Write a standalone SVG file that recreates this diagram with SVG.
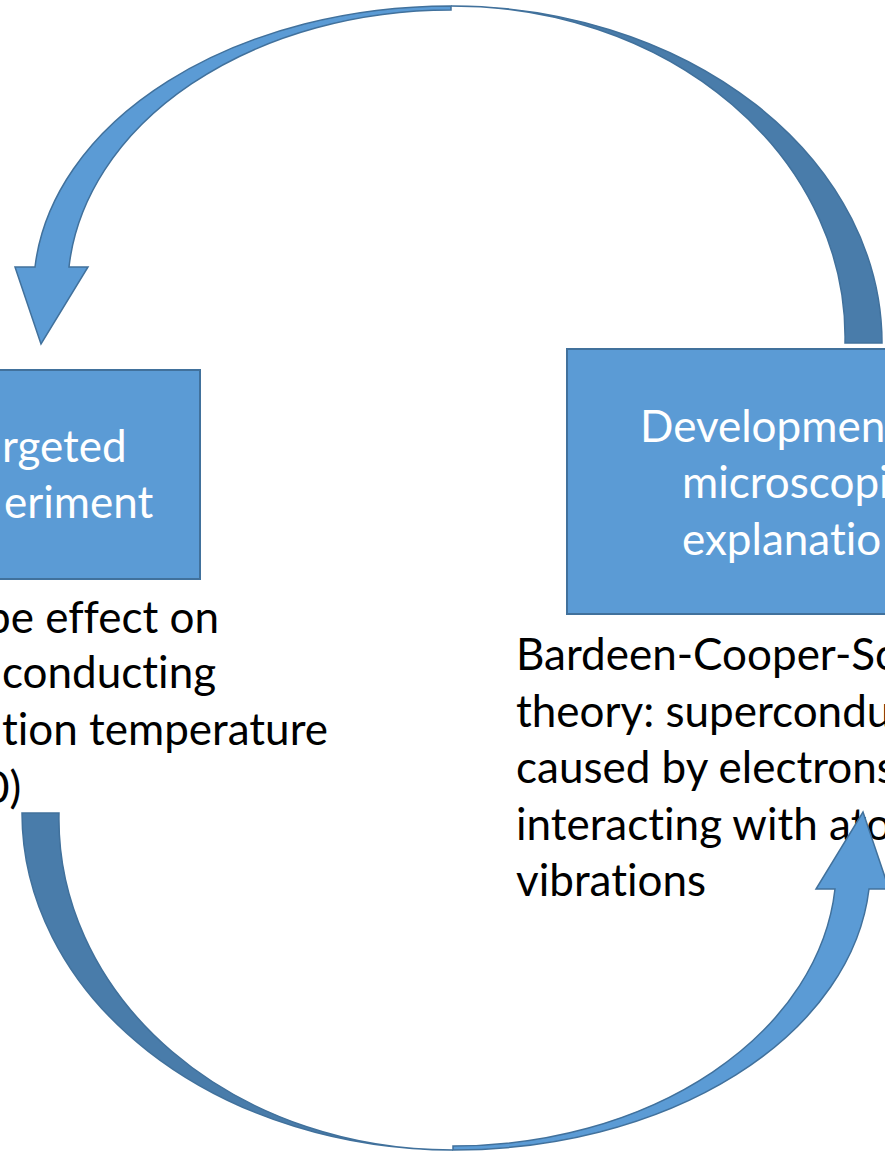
<svg xmlns="http://www.w3.org/2000/svg" width="885" height="1152" viewBox="0 0 885 1152">
  <style>
    text { font-family: Lato, "Open Sans", sans-serif; font-size: 44px; font-variant-ligatures: none; font-feature-settings: "liga" 0, "clig" 0, "calt" 0, "dlig" 0; }
    .box { fill: #5B9BD5; stroke: #41719C; stroke-width: 2; }
    .boxText { fill: #FFFFFF; }
    .note { fill: #000000; }
    .front { fill: #5B9BD5; stroke: #41719C; stroke-width: 1.5; stroke-linejoin: miter; }
    .back { fill: #497CAA; stroke: #41719C; stroke-width: 1.5; }
  </style>
  <defs>
    <!-- curved arrow: dark back face on the tail side, light front face carrying the head -->
    <g id="curvedArrow">
      <path class="back" d="M882,343 A431,337 0 0 0 451,6 A392,331 0 0 1 845,343 Z"/>
      <path class="front" d="M451,6 A417,284 0 0 0 35,267 L15,267 L41,344 L88,267 L69,267 A383,280 0 0 1 451,10 Z"/>
    </g>
  </defs>

  <!-- left node -->
  <g id="node-experiment">
    <rect class="box" x="-10" y="370" width="210" height="209"/>
    <text class="boxText" x="2" y="462">rgeted</text>
    <text class="boxText" x="4" y="518">eriment</text>
    <text class="note" x="-14" y="633">pe effect on</text>
    <text class="note" x="2" y="688">conducting</text>
    <text class="note" x="2" y="745">tion temperature</text>
    <text class="note" x="-16" y="803">0)</text>
  </g>

  <!-- right node -->
  <g id="node-theory">
    <rect class="box" x="567" y="349" width="330" height="265"/>
    <text class="boxText" x="640" y="442">Developmen</text>
    <text class="boxText" x="682" y="498">microscopi</text>
    <text class="boxText" x="682" y="555">explanatio</text>
    <text class="note" x="516" y="670">Bardeen-Cooper-Sc</text>
    <text class="note" x="516" y="727">theory: supercondu</text>
    <text class="note" x="516" y="783">caused by electrons</text>
    <text class="note" x="516" y="840">interacting with ato</text>
    <text class="note" x="516" y="896">vibrations</text>
  </g>

  <!-- connectors -->
  <g id="connectors">
    <use href="#curvedArrow"/>
    <use href="#curvedArrow" transform="rotate(180 452 578)"/>
  </g>
</svg>
